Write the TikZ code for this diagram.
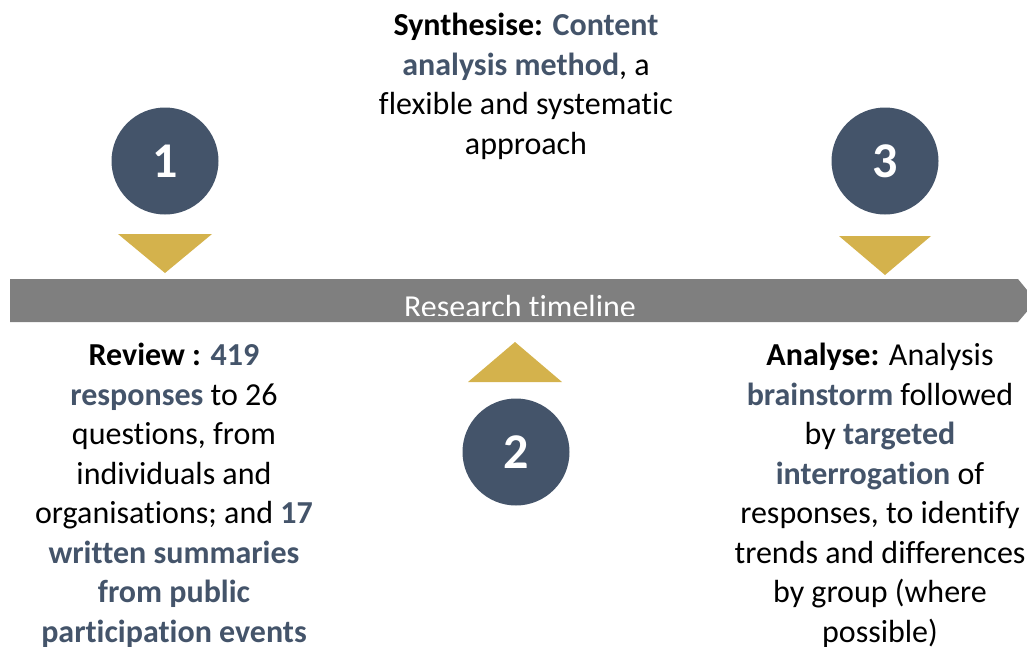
\documentclass[tikz,border=0pt]{standalone}
\usepackage{fontspec}
\setmainfont[Ligatures=NoCommon]{Carlito}
\definecolor{slate}{HTML}{44546A}
\definecolor{gold}{HTML}{D4B24C}
\definecolor{barcol}{HTML}{7F7F7F}
\newcommand{\hlt}[1]{\textcolor{slate}{\textbf{#1}}}
\begin{document}
\begin{tikzpicture}[x=1pt,y=-1pt,
  stepcircle/.style={circle,fill=slate,minimum size=107pt,inner sep=0pt,text=white,font=\fontsize{50}{60}\selectfont\bfseries},
  marker/.style={fill=gold},
  desc/.style={align=center,inner sep=0pt,font=\fontsize{32}{39.5}\selectfont,text=black}]
\useasboundingbox (0,0) rectangle (1027,646);
% timeline bar
\fill[barcol] (10,279) -- (1018,279) -- (1036,301) -- (1018,322) -- (10,322) -- cycle;
\begin{scope}
  \clip (10,279) rectangle (1027,315);
  \node[anchor=base,text=white,inner sep=0pt,font=\fontsize{32}{39}\selectfont] (tl) at (520,317) {Research timeline};
\end{scope}
% circles
\node[stepcircle] (c1) at (165,161) {1};
\node[stepcircle] (c2) at (516,452) {2};
\node[stepcircle] (c3) at (885,161) {3};
% triangles
\fill[marker] (118,234) -- (212,234) -- (165,273) -- cycle;
\fill[marker] (839,236) -- (931,236) -- (885,275) -- cycle;
\fill[marker] (468,382) -- (562,382) -- (515,342) -- cycle;
% texts
\node[desc,anchor=north] (t2) at (526,13) {\textbf{Synthesise:} \hlt{Content}\\\hlt{analysis method}, a\\flexible and systematic\\approach};
\node[desc,anchor=north] (t1) at (174,343) {\textbf{Review :} \hlt{419}\\\hlt{responses} to 26\\questions, from\\individuals and\\organisations; and \hlt{17}\\\hlt{written summaries}\\\hlt{from public}\\\hlt{participation events}};
\node[desc,anchor=north] (t3) at (880,343) {\textbf{Analyse:} Analysis\\\hlt{brainstorm} followed\\by \hlt{targeted}\\\hlt{interrogation} of\\responses, to identify\\trends and differences\\by group (where\\possible)};
\end{tikzpicture}
\end{document}
